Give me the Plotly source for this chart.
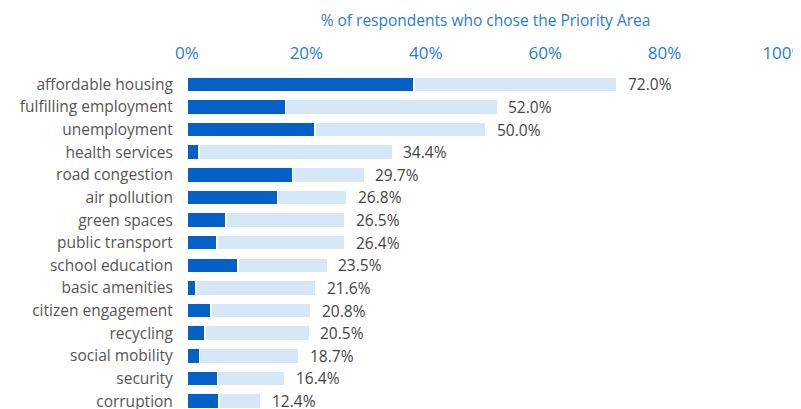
import plotly.graph_objects as go

categories = ["affordable housing", "fulfilling employment", "unemployment", "health services",
              "road congestion", "air pollution", "green spaces", "public transport",
              "school education", "basic amenities", "citizen engagement", "recycling",
              "social mobility", "security", "corruption"]
top_priority = [38.0, 16.5, 21.4, 2.0, 17.7, 15.2, 6.5, 5.0, 8.5, 1.5, 4.0, 3.0, 2.1, 5.1, 5.4]
total = [72.0, 52.0, 50.0, 34.4, 29.7, 26.8, 26.5, 26.4, 23.5, 21.6, 20.8, 20.5, 18.7, 16.4, 12.4]
other = [t - p for t, p in zip(total, top_priority)]
tick_vals = [0, 20, 40, 60, 80, 100]
tick_text = ["0%", "20%", "40%", "60%", "80%", "100%"]

DARK = "#045fc7"
LIGHT = "#d6e8f7"
BLUE_TXT = "#2a7bd2"
FONT = "Open Sans"

fig = go.Figure()
fig.add_trace(go.Bar(y=categories, x=top_priority, orientation="h", marker_color=DARK,
                     marker_line_color="white", marker_line_width=1.5, hoverinfo="skip"))
fig.add_trace(go.Bar(y=categories, x=other, orientation="h", marker_color=LIGHT,
                     marker_line_color="white", marker_line_width=1.5, hoverinfo="skip"))

for c, t in zip(categories, total):
    fig.add_annotation(x=t, y=c, text=f"{t:.1f}%", showarrow=False, xanchor="left",
                       xshift=9, font=dict(family=FONT, size=15.5, color="#444444"))

fig.update_layout(
    width=801, height=409,
    barmode="stack", bargap=0.34, showlegend=False,
    plot_bgcolor="white", paper_bgcolor="white",
    margin=dict(l=179, r=25, t=65, b=8, autoexpand=False),
    font=dict(family=FONT, size=15.5, color="#555555"),
    xaxis=dict(side="top", range=[0, 100], tickvals=tick_vals, ticktext=tick_text,
               showgrid=False, zeroline=False, showline=False, automargin=False,
               ticklabeloverflow="allow",
               tickfont=dict(family=FONT, size=17, color=BLUE_TXT),
               ticks="outside", ticklen=6, tickcolor="rgba(0,0,0,0)",
               title=dict(text="% of respondents who chose the Priority Area",
                          font=dict(family=FONT, size=15.5, color=BLUE_TXT), standoff=10)),
    yaxis=dict(categoryorder="array", categoryarray=categories, range=[14.35, -0.5],
               showgrid=False, zeroline=False, showline=False, automargin=False,
               tickfont=dict(family=FONT, size=15.5, color="#555555"),
               ticks="outside", ticklen=10, tickcolor="rgba(0,0,0,0)"),
)

fig.write_html("out.html")
